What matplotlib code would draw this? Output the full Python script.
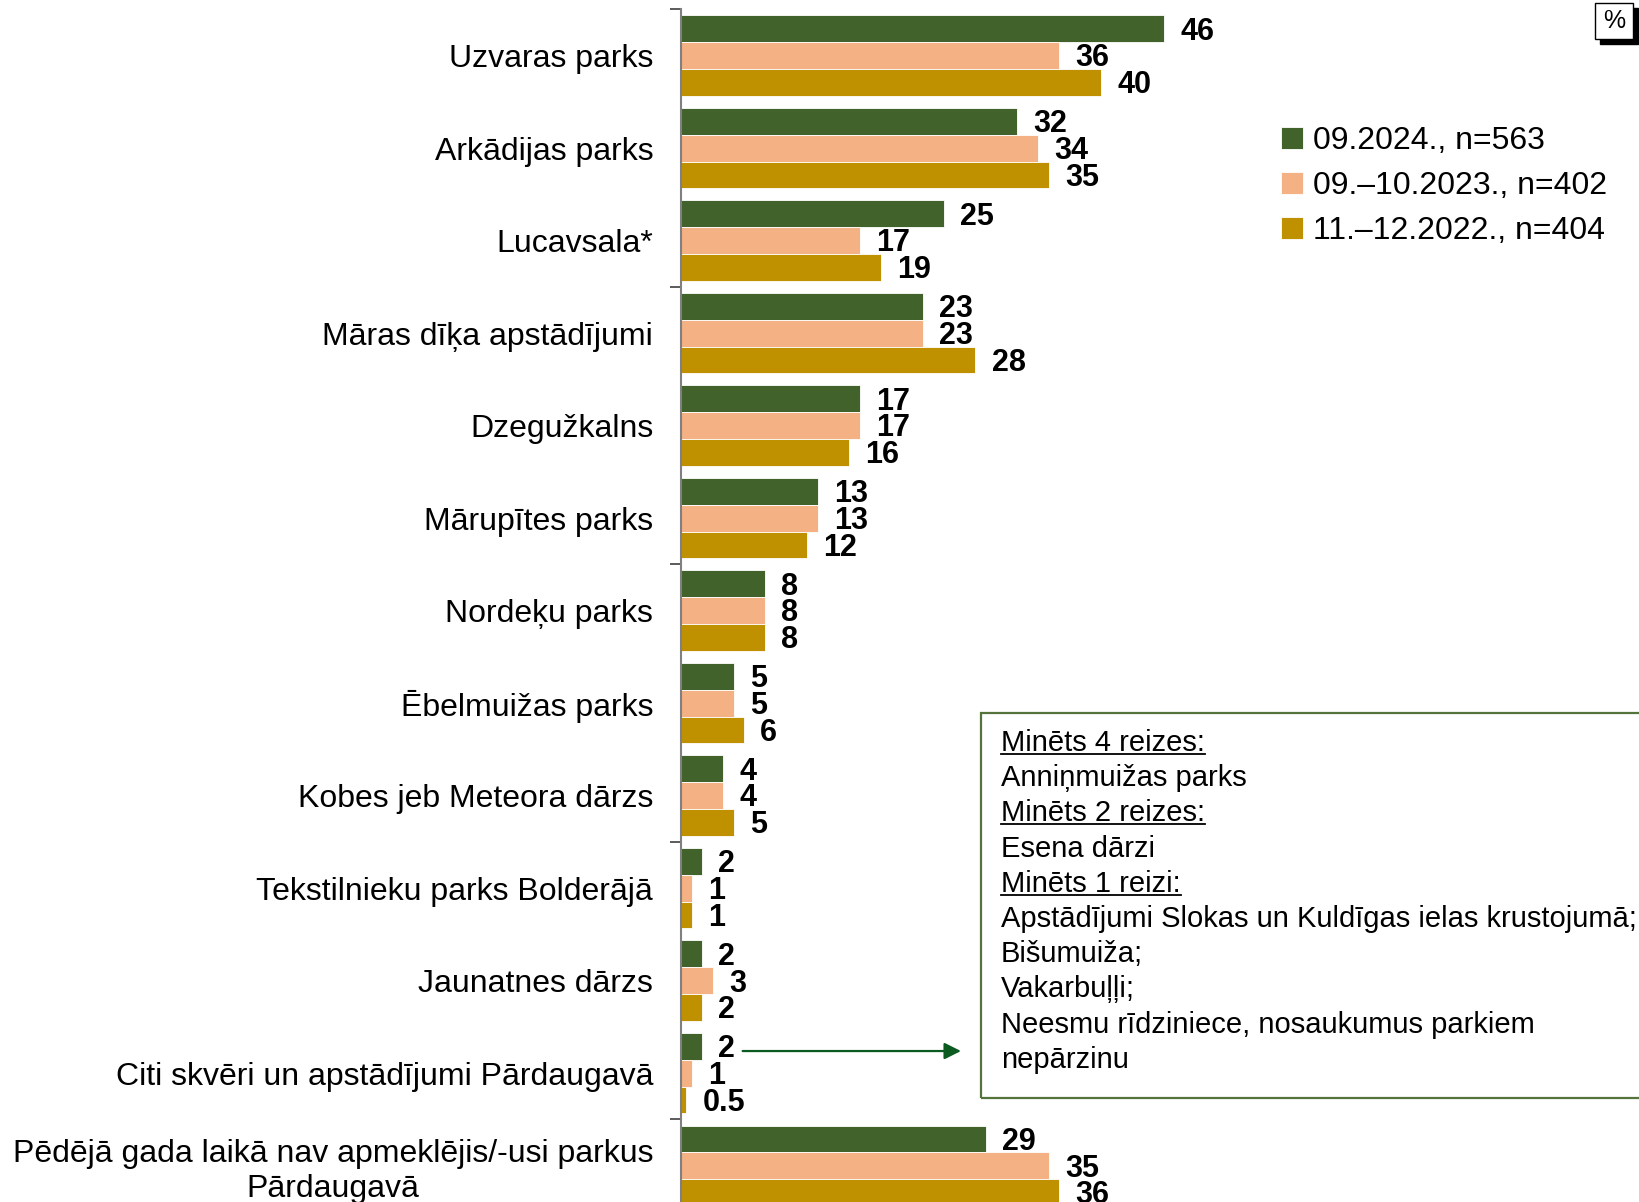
import matplotlib
matplotlib.use("Agg")
import matplotlib.pyplot as plt
from matplotlib.patches import Rectangle
from matplotlib.lines import Line2D

plt.rcParams["font.family"] = ["Liberation Sans", "DejaVu Sans"]

CATEGORIES = [
    "Uzvaras parks",
    "Arkādijas parks",
    "Lucavsala*",
    "Māras dīķa apstādījumi",
    "Dzegužkalns",
    "Mārupītes parks",
    "Nordeķu parks",
    "Ēbelmuižas parks",
    "Kobes jeb Meteora dārzs",
    "Tekstilnieku parks Bolderājā",
    "Jaunatnes dārzs",
    "Citi skvēri un apstādījumi Pārdaugavā",
    "Pēdējā gada laikā nav apmeklējis/-usi parkus\nPārdaugavā",
]
S2024 = [46, 32, 25, 23, 17, 13, 8, 5, 4, 2, 2, 2, 29]
S2023 = [36, 34, 17, 23, 17, 13, 8, 5, 4, 1, 3, 1, 35]
S2022 = [40, 35, 19, 28, 16, 12, 8, 6, 5, 1, 2, 0.5, 36]
SERIES_NAMES = ["09.2024., n=563", "09.–10.2023., n=402", "11.–12.2022., n=404"]
COLORS = ["#41632B", "#F4B183", "#BF9000"]

NOTE_LINES = [
    ("Minēts 4 reizes:", True),
    ("Anniņmuižas parks", False),
    ("Minēts 2 reizes:", True),
    ("Esena dārzi", False),
    ("Minēts 1 reizi:", True),
    ("Apstādījumi Slokas un Kuldīgas ielas krustojumā;", False),
    ("Bišumuiža;", False),
    ("Vakarbuļļi;", False),
    ("Neesmu rīdziniece, nosaukumus parkiem", False),
    ("nepārzinu", False),
]

W, H = 1639, 1202
fig = plt.figure(figsize=(W / 100, H / 100), dpi=100)

# axes placed in pixel terms (bottom runs slightly past the figure edge)
ax_left, ax_top, ax_bot = 681, 9.4, 1212
ax = fig.add_axes([ax_left / W, 1 - ax_bot / H, 1 - ax_left / W, (ax_bot - ax_top) / H])

n = len(CATEGORIES)
ys = list(range(n))
bh = 0.29
for k, (vals, col) in enumerate(zip([S2024, S2023, S2022], COLORS)):
    off = (k - 1) * bh
    pos = [y + off for y in ys]
    ax.barh(pos, vals, height=bh, color=col, edgecolor="white", linewidth=0.6,
            label=SERIES_NAMES[k])
    for p, v in zip(pos, vals):
        ax.text(v + 1.55, p + 0.03, f"{v:g}", va="center", ha="left",
                fontsize=22, fontweight="bold", color="black")

ax.set_xlim(0, (W - ax_left) / 10.51)
ax.set_ylim(n - 0.5, -0.5)

ax.set_yticks(ys)
ax.set_yticklabels(CATEGORIES, fontsize=23, multialignment="center")
ax.tick_params(axis="y", which="major", length=0, pad=20)
ax.set_yticks([-0.5, 2.5, 5.5, 8.5, 11.5], minor=True)
ax.tick_params(axis="y", which="minor", length=8, width=1.2, color="#404040")
ax.set_xticks([])
for s in ["top", "right", "bottom"]:
    ax.spines[s].set_visible(False)
ax.spines["left"].set_color("#808080")
ax.spines["left"].set_linewidth(1.5)

leg = ax.legend(frameon=False, loc="upper left", bbox_to_anchor=(1265 / W, 1 - 110 / H),
                bbox_transform=fig.transFigure, fontsize=23, handlelength=0.7,
                handleheight=0.7, handletextpad=0.3, labelspacing=0.47, borderpad=0)

# note box
fig.add_artist(Rectangle((981 / W, 1 - 1098 / H), (760) / W, (1098 - 713) / H,
                         transform=fig.transFigure, fill=False, edgecolor="#55743C",
                         linewidth=1.6, clip_on=False))
note_texts = []
for i, (line, under) in enumerate(NOTE_LINES):
    yb = 751 + i * 35.2
    t = fig.text(1001 / W, 1 - yb / H, line, fontsize=21, va="baseline", ha="left")
    note_texts.append((t, under, yb))

# arrow from the "Citi" group toward the note box
ax.annotate("", xy=(26.9, 11 - bh + 0.05), xytext=(5.6, 11 - bh + 0.05),
            arrowprops=dict(arrowstyle="-|>", color="#0B5A1F", lw=1.6, mutation_scale=25))

# "%" box with shadow
fig.add_artist(Rectangle((1600 / W, 1 - 44 / H), 38 / W, 36 / H, transform=fig.transFigure,
                         facecolor="black", edgecolor="black"))
fig.add_artist(Rectangle((1595 / W, 1 - 39 / H), 38 / W, 36 / H, transform=fig.transFigure,
                         facecolor="white", edgecolor="black", linewidth=1))
fig.text(1614 / W, 1 - 21 / H, "%", fontsize=18, ha="center", va="center")

fig.canvas.draw()
r = fig.canvas.get_renderer()
for t, under, yb in note_texts:
    if under:
        bb = t.get_window_extent(r)
        yy = (H - yb - 3) / H
        fig.add_artist(Line2D([bb.x0 / W, bb.x1 / W], [yy, yy], color="black", lw=1.3,
                              transform=fig.transFigure))

fig.savefig("out.png", dpi=100)
